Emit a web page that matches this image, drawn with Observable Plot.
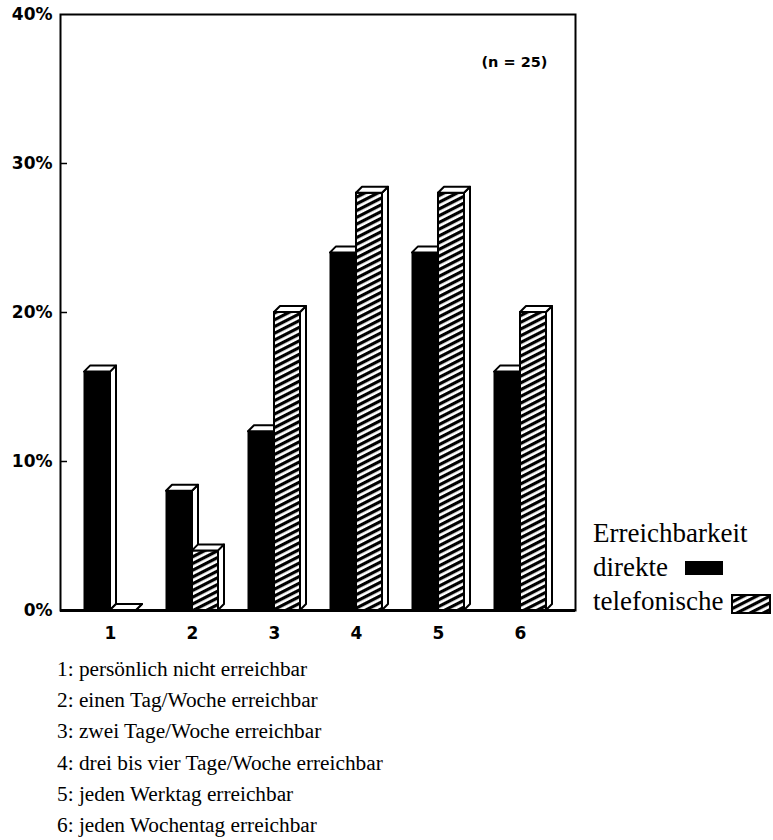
<!DOCTYPE html>
<html>
<head>
<meta charset="utf-8">
<script src="https://cdn.jsdelivr.net/npm/d3@7"></script>
<script src="https://cdn.jsdelivr.net/npm/@observablehq/plot@0.6"></script>
<style>
  body { margin: 0; background: #fff; }
  #wrap { position: relative; width: 773px; height: 840px; background: #fff; }
  #chart { position: absolute; left: 0; top: 0; }
  .leg { position: absolute; left: 593px; font-family: "Liberation Serif", serif; font-size: 27px; line-height: 1; color: #000; white-space: nowrap; }
  .sw { position: absolute; }
  #notes { position: absolute; left: 57px; top: 654px; font-family: "Liberation Serif", serif; font-size: 21.3px; line-height: 31.2px; color: #000; }
</style>
</head>
<body>
<div id="wrap">
  <div id="chart"></div>
  <div class="leg" id="legTitle" style="top:520px"></div>
  <div class="leg" id="legA" style="top:554px"></div>
  <div class="leg" id="legB" style="top:588px"></div>
  <div class="sw" style="left:685px; top:561px; width:38px; height:14px; background:#000;"></div>
  <svg class="sw" style="left:731px; top:594px;" width="40" height="20">
    <defs>
      <pattern id="hatchLegend" patternUnits="userSpaceOnUse" width="8" height="6" patternTransform="rotate(-27)">
        <rect x="0" y="0" width="8" height="6" fill="#fff"></rect>
        <rect x="0" y="0" width="8" height="3.2" fill="#000"></rect>
      </pattern>
    </defs>
    <rect x="1" y="1" width="38" height="18" fill="url(#hatchLegend)" stroke="#000" stroke-width="2"></rect>
  </svg>
  <div id="notes"></div>
</div>
<script>
// ---- data ----
const categories = [1, 2, 3, 4, 5, 6];
const seriesNames = ["direkte", "telefonische"];
const direkteValues = [16, 8, 12, 24, 24, 16];
const telefonischeValues = [0, 4, 20, 28, 28, 20];
const yTickValues = [0, 10, 20, 30, 40];
const innerTickValues = [10, 20, 30];
const sampleNote = "(n = 25)";
const legendTitle = "Erreichbarkeit";
const footnotes = [
  "1: persönlich nicht erreichbar",
  "2: einen Tag/Woche erreichbar",
  "3: zwei Tage/Woche erreichbar",
  "4: drei bis vier Tage/Woche erreichbar",
  "5: jeden Werktag erreichbar",
  "6: jeden Wochentag erreichbar"
];

const data = categories.flatMap((c, i) => [
  {cat: c, series: seriesNames[0], value: direkteValues[i]},
  {cat: c, series: seriesNames[1], value: telefonischeValues[i]}
]);

// ---- style constants ----
const X_RANGE = [69, 561];
const HALF = (X_RANGE[1] - X_RANGE[0]) / categories.length / 2;
const BAR = 26;
const DEPTH = 6;

function depthFaces(series) {
  return (index, scales) => {
    const x = scales.x, y = scales.y;
    const bw = x.bandwidth ? x.bandwidth() : 2 * HALF;
    const half = bw / 2;
    const g = d3.create("svg:g")
      .attr("fill", "#fff")
      .attr("stroke", "#000")
      .attr("stroke-width", 2)
      .attr("stroke-linejoin", "round");
    for (const d of data.filter(d => d.series === series)) {
      const left = series === seriesNames[0] ? x(d.cat) + half - BAR : x(d.cat) + half;
      const right = left + BAR;
      const top = y(d.value), base = y(0);
      g.append("path").attr("d",
        `M${right},${base}L${right + DEPTH},${base - DEPTH}L${right + DEPTH},${top - DEPTH}L${right},${top}Z`);
      g.append("path").attr("d",
        `M${left},${top}L${left + DEPTH},${top - DEPTH}L${right + DEPTH},${top - DEPTH}L${right},${top}Z`);
    }
    return g.node();
  };
}

const chart = Plot.plot({
  width: 773,
  height: 650,
  marginTop: 14,
  marginLeft: 60,
  marginRight: 198,
  marginBottom: 40,
  style: {fontFamily: "'DejaVu Sans', sans-serif", fontSize: "17px", color: "#000", background: "#fff"},
  x: {type: "band", domain: categories, range: X_RANGE, padding: 0, label: null},
  y: {domain: [0, 40], label: null},
  marks: [
    Plot.barY(data.filter(d => d.series === seriesNames[0]), {
      x: "cat", y: "value", fill: "#000", stroke: "#000", strokeWidth: 1,
      insetLeft: HALF - BAR, insetRight: HALF
    }),
    depthFaces(seriesNames[0]),
    Plot.barY(data.filter(d => d.series === seriesNames[1]), {
      x: "cat", y: "value", fill: "url(#hatch)", stroke: "#000", strokeWidth: 2,
      insetLeft: HALF, insetRight: HALF - BAR
    }),
    depthFaces(seriesNames[1]),
    Plot.frame({stroke: "#000", strokeWidth: 2}),
    Plot.ruleY([0], {stroke: "#000", strokeWidth: 3}),
    Plot.axisY({ticks: yTickValues, tickSize: 0, tickPadding: 8, tickFormat: d => d + "%",
      fontWeight: 600, fill: "#000"}),
    Plot.axisY({ticks: innerTickValues, tickSize: 7, dx: 7, tickFormat: () => "", stroke: "#000", strokeWidth: 1.5}),
    Plot.axisX({ticks: categories, tickSize: 0, tickPadding: 16, fontWeight: 600, fill: "#000"}),
    Plot.text([sampleNote], {frameAnchor: "top-right", dx: -28, dy: 48, text: d => d,
      fontSize: 14.5, fontWeight: 600, textAnchor: "end", lineAnchor: "middle", fill: "#000"})
  ]
});

d3.select(chart).insert("defs", ":first-child").html(
  `<pattern id="hatch" patternUnits="userSpaceOnUse" width="8" height="6" patternTransform="rotate(-27)">
     <rect x="0" y="0" width="8" height="6" fill="#fff"></rect>
     <rect x="0" y="0" width="8" height="3.2" fill="#000"></rect>
   </pattern>`);

document.getElementById("chart").appendChild(chart);
document.getElementById("legTitle").textContent = legendTitle;
document.getElementById("legA").textContent = seriesNames[0];
document.getElementById("legB").textContent = seriesNames[1];
const notes = document.getElementById("notes");
for (const f of footnotes) {
  const div = document.createElement("div");
  div.textContent = f;
  notes.appendChild(div);
}
</script>
</body>
</html>
